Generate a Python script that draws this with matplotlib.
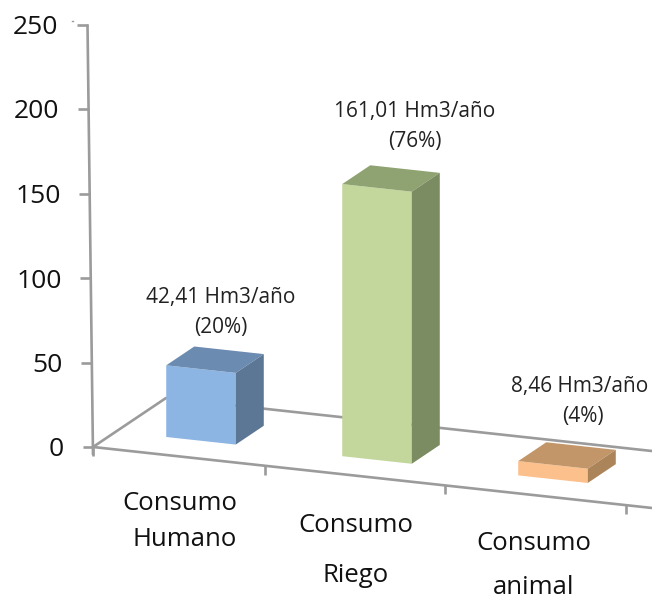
import matplotlib
matplotlib.use("Agg")
import matplotlib.pyplot as plt
from matplotlib.patches import Polygon

plt.rcParams['font.family'] = ['Open Sans', 'DejaVu Sans']

# data
categories = [["Consumo", "Humano"], ["Consumo", "Riego"], ["Consumo", "animal"]]
values = [42.41, 161.01, 8.46]
value_labels = ["42,41 Hm3/año", "161,01 Hm3/año", "8,46 Hm3/año"]
share_labels = ["(20%)", "(76%)", "(4%)"]
y_ticks = [0, 50, 100, 150, 200, 250]

# colours (front, top, side)
front = ["#8DB5E4", "#C3D69B", "#FCC08C"]
top = ["#6C8BB1", "#8FA372", "#C29669"]
side = ["#5C7796", "#7B8B62", "#AC8459"]
GREY = "#9B9B9B"

# oblique projection geometry (pixels)
OX, OY = 93.0, 447.0
CX, CY = 176.0, 19.2      # one category step
DX, DY = 73.0, -49.0      # full floor depth
VY = 1.69                 # pixels per value unit
AXIS_LEAN = -5.5          # lean of the value axis over its full range
YMAX = 250


def proj(c, v=0.0, d=0.0):
    return OX + CX * c + DX * d, OY + CY * c + DY * d - VY * v


fig = plt.figure(figsize=(6.52, 6.03), dpi=100)
ax = fig.add_axes([0, 0, 1, 1])
ax.set_xlim(0, 652)
ax.set_ylim(603, 0)
ax.axis("off")

line = dict(color=GREY, lw=1.9, solid_capstyle="butt", zorder=1)

# floor
xa, ya = proj(0)
xb, yb = proj(3.3)
ax.plot([xa, xb], [ya, yb], **line)
xc, yc = proj(0, d=1)
xd, yd = proj(3.3, d=1)
ax.plot([xa, xc, xd], [ya, yc, yd], **line)

# value axis and ticks
ax.plot([OX, OX + AXIS_LEAN], [OY + 8, OY - VY * YMAX], **line)
for t in y_ticks:
    x = OX + AXIS_LEAN * t / YMAX
    y = OY - VY * t
    ax.plot([x - 10.5, x], [y, y], **line)
    ax.text(x - 29, y + 3, str(t), ha="right", va="center", fontsize=19, color="#111111")
ax.plot([71.5, 72.5], [21, 21], color=GREY, lw=1, zorder=1)

# category ticks
for c in [0, 0.98, 2.0, 3.03]:
    x, y = proj(c)
    ax.plot([x, x], [y, y + 9], **line)

# bars
BAR_C = 0.285
BAR_W = 0.395
BAR_D0, BAR_D1 = 0.316, 0.70
label_dx = [20, 38, 30]
label_value_dx = [0, 0, -3]
label_gap = [19, 24, 26]
for i, v in enumerate(values):
    c0, c1 = BAR_C + i, BAR_C + i + BAR_W
    ax.add_patch(Polygon([proj(c0, 0, BAR_D0), proj(c1, 0, BAR_D0), proj(c1, v, BAR_D0), proj(c0, v, BAR_D0)],
                         fc=front[i], ec="none", zorder=3))
    ax.add_patch(Polygon([proj(c0, v, BAR_D0), proj(c1, v, BAR_D0), proj(c1, v, BAR_D1), proj(c0, v, BAR_D1)],
                         fc=top[i], ec="none", zorder=3))
    ax.add_patch(Polygon([proj(c1, 0, BAR_D0), proj(c1, 0, BAR_D1), proj(c1, v, BAR_D1), proj(c1, v, BAR_D0)],
                         fc=side[i], ec="none", zorder=3))
    xt, yt = proj(c0, v, BAR_D1)
    xm = proj(c0 + BAR_W / 2, v, BAR_D0)[0]
    ax.text(xm + label_dx[i], yt - label_gap[i], share_labels[i], ha="center", va="center",
            fontsize=15, color="#222222", zorder=5)
    ax.text(xm + label_dx[i] + label_value_dx[i], yt - label_gap[i] - 29.5, value_labels[i], ha="center", va="center",
            fontsize=15, color="#222222", zorder=5)

# category labels
cat_xy = [[(180, 503), (185, 539)], [(356, 526), (356, 575)], [(534, 543), (534, 588)]]
for lines, xys in zip(categories, cat_xy):
    for s, (x, y) in zip(lines, xys):
        ax.text(x, y, s, ha="center", va="center", fontsize=18.5, color="#111111")

fig.savefig("out.png", dpi=100)
